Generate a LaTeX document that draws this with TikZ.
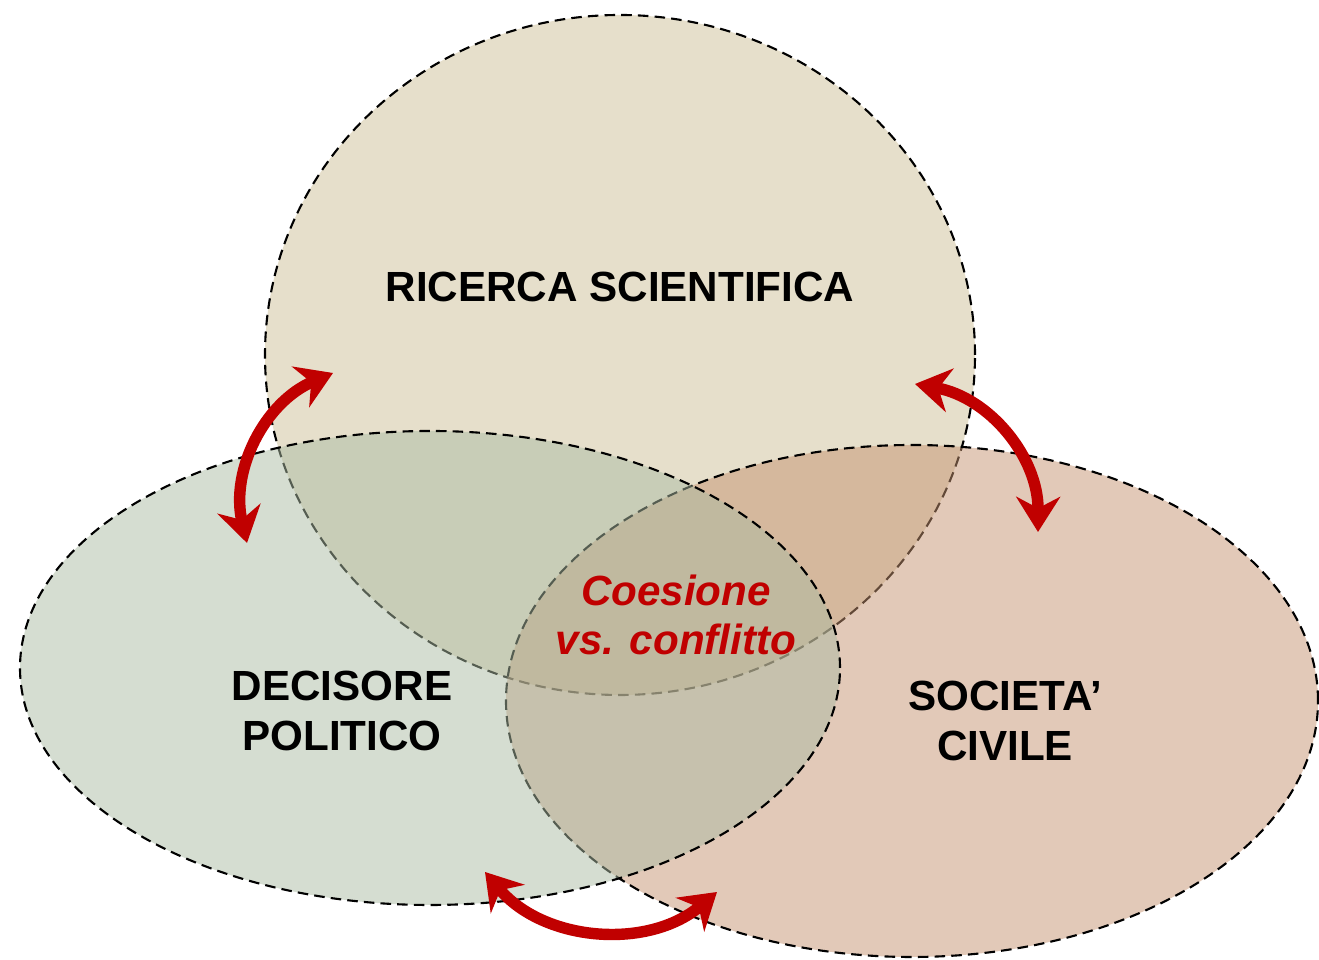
\documentclass[tikz,border=0pt]{standalone}
\usepackage{fontspec}
\setmainfont{Liberation Sans}
\usetikzlibrary{calc,arrows.meta}
\definecolor{rosso}{RGB}{192,0,0}
\definecolor{beige}{RGB}{205,191,151}
\definecolor{verdino}{RGB}{171,187,163}
\definecolor{rosato}{RGB}{197,147,113}

\begin{document}
\begin{tikzpicture}[x=0.2mm,y=0.2mm,
    insieme/.style={draw=black,line width=1.2pt,dash pattern=on 6pt off 3.5pt,fill opacity=0.5},
    etichetta/.style={font=\fontsize{24}{28}\selectfont\bfseries,align=center},
    freccia/.style={rosso,line width=6.5pt,{Stealth[length=20pt,width=25pt]}-{Stealth[length=20pt,width=25pt]}}]
  \useasboundingbox (0,0) rectangle (1319,960);
  % i tre insiemi
  \draw[insieme,fill=beige] (620,605) ellipse [x radius=355,y radius=340];
  \draw[insieme,fill=rosato] (912,259) ellipse [x radius=406,y radius=256];
  \draw[insieme,fill=verdino] (430,292) ellipse [x radius=410,y radius=237];
  % etichette
  \node[etichetta] (ricerca) at (620,673) {RICERCA SCIENTIFICA};
  \node[etichetta] (decisore) at (342,249) {DECISORE\\POLITICO};
  \node[etichetta] (societa) at (1005,239) {SOCIETA’\\CIVILE};
  \node[etichetta,rosso,font=\fontsize{24}{28}\selectfont\bfseries\itshape] (coesione) at (676,345) {Coesione\\vs. conflitto};
  % frecce
  \coordinate (dp1) at (247,417);
  \coordinate (rs1) at (333,587);
  \coordinate (rs2) at (915,576);
  \coordinate (sc1) at (1038,428);
  \coordinate (dp2) at (485,88);
  \coordinate (sc2) at (717,68);
  \draw[freccia] (dp1) to[bend left=40] (rs1);
  \draw[freccia] (rs2) to[bend left=40] (sc1);
  \draw[freccia] (dp2) to[bend right=45] (sc2);
\end{tikzpicture}
\end{document}
